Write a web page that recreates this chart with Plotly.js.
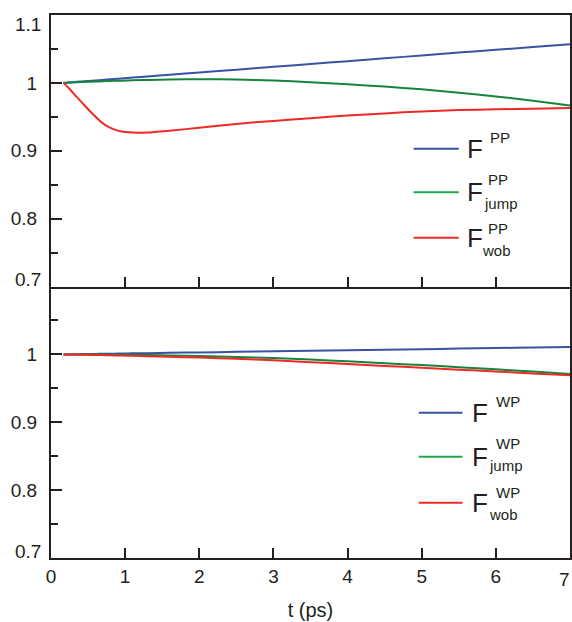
<!DOCTYPE html>
<html>
<head>
<meta charset="utf-8">
<script src="https://cdn.plot.ly/plotly-3.0.1.min.js"></script>
<style>
  html, body { margin: 0; padding: 0; background: #fff; }
  #chart { width: 572px; height: 622px; }
</style>
</head>
<body>
<div id="chart"></div>
<script>
// Time axis (ps), shared by both panels
const t = [0.17, 0.25, 0.35, 0.45, 0.55, 0.65, 0.75, 0.85, 0.95, 1.1, 1.3, 1.6, 2.0, 2.5, 3.0, 3.5, 4.0, 4.5, 5.0, 5.5, 6.0, 6.5, 7.0];

// Upper panel: PP correlation functions
const fPP     = [1.0000, 1.0007, 1.0015, 1.0023, 1.0032, 1.0040, 1.0048, 1.0057, 1.0065, 1.0078, 1.0094, 1.0120, 1.0153, 1.0195, 1.0237, 1.0278, 1.0320, 1.0362, 1.0404, 1.0446, 1.0487, 1.0529, 1.0570];
const fPPjump = [1.0000, 1.0004, 1.0009, 1.0014, 1.0018, 1.0022, 1.0026, 1.0030, 1.0033, 1.0038, 1.0043, 1.0049, 1.0053, 1.0050, 1.0035, 1.0010, 0.9980, 0.9945, 0.9905, 0.9855, 0.9800, 0.9735, 0.9665];
const fPPwob  = [1.0000, 0.9910, 0.9790, 0.9670, 0.9555, 0.9450, 0.9365, 0.9315, 0.9285, 0.9270, 0.9268, 0.9295, 0.9340, 0.9395, 0.9440, 0.9480, 0.9520, 0.9550, 0.9580, 0.9600, 0.9610, 0.9620, 0.9630];

// Lower panel: WP correlation functions
const fWP     = [1.0000, 1.0001, 1.0003, 1.0004, 1.0006, 1.0008, 1.0009, 1.0011, 1.0012, 1.0015, 1.0018, 1.0023, 1.0029, 1.0037, 1.0045, 1.0053, 1.0061, 1.0069, 1.0077, 1.0085, 1.0093, 1.0101, 1.0110];
const fWPjump = [1.0000, 1.0000, 0.9999, 0.9999, 0.9998, 0.9997, 0.9996, 0.9995, 0.9994, 0.9992, 0.9989, 0.9984, 0.9975, 0.9962, 0.9945, 0.9923, 0.9898, 0.9870, 0.9842, 0.9812, 0.9780, 0.9747, 0.9712];
const fWPwob  = [1.0000, 0.9998, 0.9996, 0.9994, 0.9992, 0.9990, 0.9988, 0.9985, 0.9983, 0.9979, 0.9974, 0.9966, 0.9953, 0.9935, 0.9912, 0.9885, 0.9858, 0.9830, 0.9803, 0.9775, 0.9748, 0.9720, 0.9692];

// Tick labels (the labels at the frame edges are set just inside the frame)
const xTicks = [0, 1, 2, 3, 4, 5, 6, 7];
const xText = ['0', '1', '2', '3', '4', '5', '6', ''];
const yTicksTop = [0.7, 0.8, 0.9, 1.0, 1.1];
const yTextTop = ['', '0.8', '0.9', '1', ''];
const yTicksBottom = [0.7, 0.8, 0.9, 1.0];
const yTextBottom = ['', '0.8', '0.9', '1'];
const edgeLabels = [
  { text: '1.1', axis: 'y2', value: 1.1, shift: -9 },
  { text: '0.7', axis: 'y2', value: 0.7, shift: 7 },
  { text: '0.7', axis: 'y',  value: 0.7, shift: 7 }
];
const lastXLabel = '7';

const BLUE = '#3953a4';
const GREEN = '#17843d';
const GREEN_KEY = '#1fa84a';
const RED = '#ee2a24';
const INK = '#231f20';
const FONT = 'Liberation Sans, Arial, Helvetica, sans-serif';

function curve(y, color, xa, ya) {
  return {
    x: t, y: y, xaxis: xa, yaxis: ya, type: 'scatter', mode: 'lines',
    line: { color: color, width: 2, shape: 'spline', smoothing: 0.8 },
    hoverinfo: 'x+y', showlegend: false
  };
}

const traces = [
  curve(fPP, BLUE, 'x2', 'y2'),
  curve(fPPjump, GREEN, 'x2', 'y2'),
  curve(fPPwob, RED, 'x2', 'y2'),
  curve(fWP, BLUE, 'x', 'y'),
  curve(fWPjump, GREEN, 'x', 'y'),
  curve(fWPwob, RED, 'x', 'y')
];

const baseX = {
  range: [0, 7], tickvals: xTicks, ticktext: xText, ticks: 'inside', ticklen: 10, tickwidth: 2,
  tickcolor: INK, showline: true, linewidth: 2, linecolor: INK,
  showgrid: false, zeroline: false, fixedrange: true,
  tickfont: { family: FONT, size: 19, color: INK }
};
const baseY = {
  range: [0.7, 1.1], ticks: 'inside', ticklen: 11, tickwidth: 2, tickcolor: INK,
  showline: true, linewidth: 2, linecolor: INK, mirror: true,
  showgrid: false, zeroline: false, fixedrange: true, ticklabelstandoff: 8,
  tickfont: { family: FONT, size: 19, color: INK },
  minor: { dtick: 0.05, ticks: 'inside', ticklen: 7, tickwidth: 2, tickcolor: INK, showgrid: false }
};

// Legend keys: a short swatch followed by F with stacked super/subscripts
const shapes = [];
const annotations = [];
function key(ya, yv, color, x0, x1, xF, sup, xSup, ySup, sub, xSub, ySub) {
  shapes.push({ type: 'line', xref: 'x', yref: ya, x0: x0, x1: x1, y0: yv, y1: yv,
                line: { color: color, width: 2 } });
  annotations.push({ xref: 'x', yref: ya, x: xF, y: yv, text: 'F', showarrow: false,
                     xanchor: 'left', yanchor: 'middle', font: { family: FONT, size: 26, color: INK } });
  annotations.push({ xref: 'x', yref: ya, x: xSup, y: ySup, text: sup, showarrow: false,
                     xanchor: 'left', yanchor: 'middle', font: { family: FONT, size: 15, color: INK } });
  if (sub) {
    annotations.push({ xref: 'x', yref: ya, x: xSub, y: ySub, text: sub, showarrow: false,
                       xanchor: 'left', yanchor: 'middle', font: { family: FONT, size: 15, color: INK } });
  }
}
key('y2', 0.903, BLUE, 4.89, 5.5, 5.58, 'PP', 5.9, 0.920, null);
key('y2', 0.839, GREEN_KEY, 4.89, 5.5, 5.58, 'PP', 5.87, 0.857, 'jump', 5.81, 0.823);
key('y2', 0.772, RED, 4.89, 5.5, 5.58, 'PP', 5.87, 0.786, 'wob', 5.79, 0.753);
key('y', 0.914, BLUE, 4.96, 5.55, 5.65, 'WP', 5.98, 0.931, null);
key('y', 0.849, GREEN_KEY, 4.96, 5.55, 5.65, 'WP', 5.98, 0.868, 'jump', 5.88, 0.836);
key('y', 0.7815, RED, 4.96, 5.55, 5.65, 'WP', 5.98, 0.796, 'wob', 5.88, 0.764);

edgeLabels.forEach(function (e) {
  annotations.push({ xref: 'paper', yref: e.axis, x: 0, y: e.value, yshift: e.shift,
                     xanchor: 'right', yanchor: 'middle', xshift: -8, text: e.text, showarrow: false,
                     font: { family: FONT, size: 19, color: INK } });
});
// last time label kept inside the page edge
annotations.push({ xref: 'paper', yref: 'y', x: 1, y: 0.7, xanchor: 'right', yanchor: 'top',
                   xshift: 2, yshift: -9, text: lastXLabel, showarrow: false,
                   font: { family: FONT, size: 19, color: INK } });

const layout = {
  width: 572, height: 622,
  margin: { l: 51, r: 2, t: 15, b: 64 },
  paper_bgcolor: '#fff', plot_bgcolor: '#fff',
  showlegend: false,
  font: { family: FONT, color: INK },
  // lower panel: bottom edge carries the time labels; its top edge is the upper panel's bottom line
  xaxis: Object.assign({}, baseX, {
    anchor: 'y', mirror: false,
    title: { text: 't (ps)', font: { family: FONT, size: 20, color: INK }, standoff: 17 }
  }),
  xaxis2: Object.assign({}, baseX, { anchor: 'y2', matches: 'x', mirror: true, showticklabels: false }),
  yaxis: Object.assign({}, baseY, { domain: [0, 0.5], anchor: 'x', tickvals: yTicksBottom, ticktext: yTextBottom }),
  yaxis2: Object.assign({}, baseY, { domain: [0.5, 1], anchor: 'x2', tickvals: yTicksTop, ticktext: yTextTop }),
  shapes: shapes,
  annotations: annotations
};

Plotly.newPlot('chart', traces, layout, { displayModeBar: false, staticPlot: true });
</script>
</body>
</html>
